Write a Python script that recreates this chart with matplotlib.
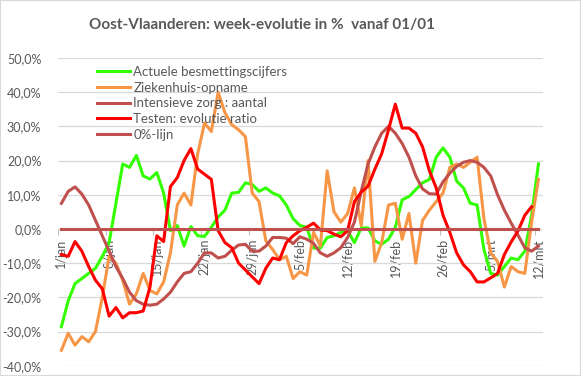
import matplotlib.pyplot as plt
import numpy as np
from matplotlib.ticker import FuncFormatter
from matplotlib.patches import Rectangle

plt.rcParams['font.family'] = ['Lato', 'DejaVu Sans']

# dag 0 = 1 januari, dag 70 = 12 maart
days = np.arange(71)
tick_days = [0, 7, 14, 21, 28, 35, 42, 49, 56, 63, 70]
tick_labels = ['1/jan', '8/jan', '15/jan', '22/jan', '29/jan', '5/feb',
               '12/feb', '19/feb', '26/feb', '5/mrt', '12/mrt']

# week-evolutie in %
besmettingen = [-28.6, -21, -16, -14.5, -13, -11.5, -8, -4, 7.5, 19,
                18, 21.5, 15.5, 14.6, 16.5, 10.5, -0.5, 1, -5, 0.7,
                -2, -2.2, 0.5, 3.5, 5.5, 10.5, 10.7, 13.5, 13, 11,
                12, 10.5, 9.7, 7, 3, 1, 0.5, -5.6, -5.6, -2.5,
                -2, -1, -0.5, -4, 0.3, 0.3, -3.5, -4.5, -3, 0.5,
                8.5, 9.5, 11.5, 13.5, 14.5, 21, 23.7, 21, 14, 12,
                7.5, 7, -6, -13, -13.5, -11, -8.5, -9, -6.5, 4,
                19]
ziekenhuis = [-35.5, -30.5, -34, -31.5, -33, -30, -20, -8, -10, -15,
              -22, -19, -13, -18, -19, -15.5, -7, 7, 10.5, 7,
              22, 31, 28.5, 40, 34, 30.5, 29, 27, 10.5, 8,
              -3.5, -6, -9, -8, -14.5, -12.5, -13.5, -1, -5, 17,
              5, 2, 4.5, 12, 1, 20, -9.5, -4, 7, 7.5,
              -3, 4.5, -10, 2.5, 5.5, 8, 10.5, 18, 19, 18,
              19.5, 21, 3, -7, -9.5, -17, -11, -12.5, -13, 2,
              14.5]
intensieve_zorg = [7.5, 11, 12.3, 10.2, 7, 2.5, -2, -6.5, -11, -14.5,
                   -18.5, -21, -22, -22.3, -22, -20.5, -18.5, -15.5, -13, -12.5,
                   -10, -7, -7, -8.5, -8, -6.2, -4.7, -4.5, -6.5, -6.5,
                   -5, -2.5, -2.5, -2.7, -4.3, -2.3, -3, -4.2, -7, -8,
                   -7, -5.5, -2.5, 2, 11, 19, 24, 28, 30, 28,
                   25, 21, 15.5, 11.7, 10.3, 10.2, 13.8, 16.3, 18.3, 19.5,
                   20, 19.5, 18, 15.5, 10, 5.5, 1.7, -1.8, -5.5, -6.5,
                   -5]
testen = [-7.5, -8, -3.7, -6.5, -11, -15, -17.5, -25.5, -23, -26,
          -24.5, -24.5, -24, -17, -2, -3.7, 12.4, 15, 20, 23.5,
          17.5, 16, 14.5, -0.5, -4, -5.5, -10, -12, -14, -16,
          -11.5, -8.5, -9, -4, -2, -0.5, 0.5, 1.7, -0.3, -0.5,
          -1.5, -2.3, -0.5, 8, 10.8, 12.5, 17.5, 22, 29, 36.5,
          29.5, 29.5, 28, 24, 17, 12, 4, -1, -7, -10.5,
          -12.5, -15.5, -15.5, -14.3, -13, -7.5, -3.8, -0.6, 4, 6.5,
          np.nan]
nul_lijn = [0] * 71

grey = '#595959'

fig = plt.figure(figsize=(5.81, 3.76), dpi=100)
fig.patches.append(Rectangle((0, 0), 1, 1, transform=fig.transFigure,
                             fill=False, edgecolor='#D9D9D9', lw=1.5))
ax = fig.add_axes([58 / 581, 1 - 365.7 / 376, 485 / 581, 307.7 / 376])

ax.plot(days, besmettingen, color='#33FF00', lw=2.2, label='Actuele besmettingscijfers')
ax.plot(days, ziekenhuis, color='#F79646', lw=2.2, label='Ziekenhuis-opname')
ax.plot(days, intensieve_zorg, color='#C0504D', lw=2.2, label='Intensieve zorg : aantal')
ax.plot(days, testen, color='#FF0000', lw=2.2, label='Testen: evolutie ratio')
ax.plot(days, nul_lijn, color='#C0504D', lw=2.2, label='0%-lijn')

ax.set_xlim(-0.44, 70.67)
ax.set_ylim(-40, 50)
ax.set_yticks(range(-40, 51, 10))
ax.yaxis.set_major_formatter(FuncFormatter(lambda v, p: f'{v:.1f}%'.replace('.', ',')))
ax.yaxis.grid(True, color='#D9D9D9', lw=0.9)
ax.set_axisbelow(True)
for s in ax.spines.values():
    s.set_visible(False)
ax.spines['bottom'].set_position(('data', 0))

ax.set_xticks(tick_days)
ax.set_xticklabels(tick_labels, rotation=90)
ax.set_xticks([d - 0.5 for d in tick_days], minor=True)
ax.tick_params(axis='x', which='major', length=0, pad=7, labelsize=9, labelcolor=grey)
ax.tick_params(axis='x', which='minor', length=4, color='#BFBFBF', width=0.8)
ax.tick_params(axis='y', length=0, pad=12, labelsize=9, labelcolor=grey)

ax.legend(loc='upper left', bbox_to_anchor=(97 / 581, 1 - 66 / 376),
          bbox_transform=fig.transFigure, frameon=False, fontsize=9.5,
          handlelength=2.5, handletextpad=0.25, labelspacing=0.28,
          borderpad=0, borderaxespad=0, labelcolor=grey)

fig.text(262 / 581, 1 - 25 / 376, 'Oost-Vlaanderen: week-evolutie in %  vanaf 01/01',
         ha='center', va='center', fontsize=11, fontweight='bold', color=grey)

fig.savefig('out.png', dpi=100)
